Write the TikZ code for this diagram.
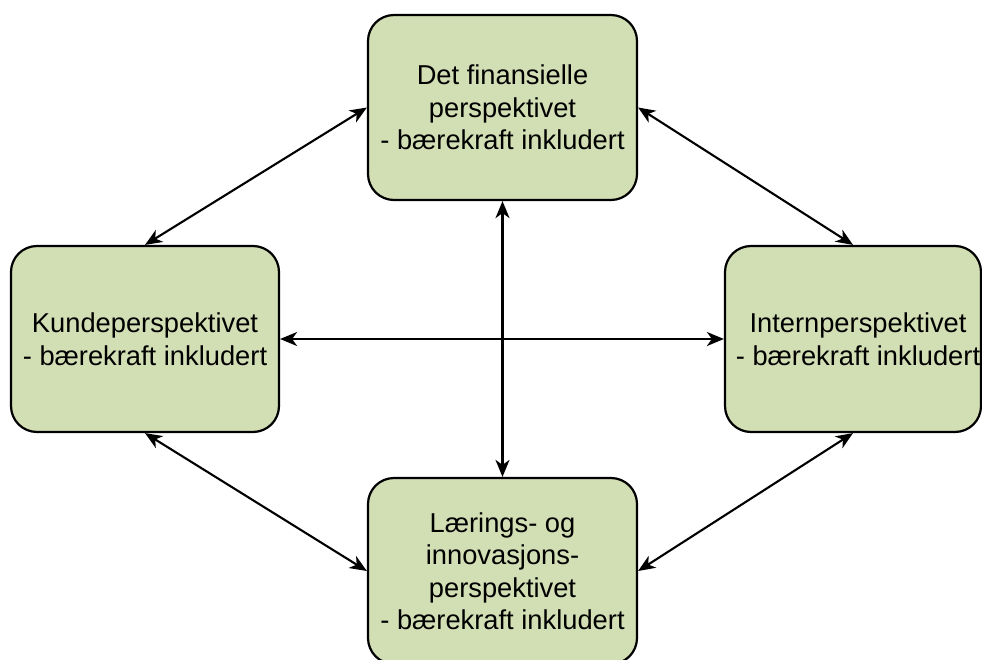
\documentclass[tikz,border=0pt]{standalone}
\usepackage{fontspec}
\setmainfont{Liberation Sans}
\usetikzlibrary{arrows.meta}
\definecolor{boxfill}{RGB}{210,222,180}
\begin{document}
\begin{tikzpicture}[x=1pt,y=-1pt,
  persp/.style={draw=black, line width=2.2pt, fill=boxfill, rounded corners=26pt,
    align=center, inner sep=0pt,
    font=\fontsize{27.3}{32.5}\selectfont},
  caption/.style={align=center, inner sep=0pt, font=\fontsize{27.3}{32.5}\selectfont},
  link/.style={line width=2.1pt, {Stealth[length=17pt,width=14pt,inset=5pt]}-{Stealth[length=17pt,width=14pt,inset=5pt]}}]
  \useasboundingbox (0,0) rectangle (982,660);
  \node[persp, minimum width=269pt, minimum height=185pt] (fin) at (502.5,107.5)
    {Det finansielle\\perspektivet\\- bærekraft inkludert};
  \node[persp, minimum width=268pt, minimum height=186pt] (kunde) at (145,339)
    {Kundeperspektivet\\- bærekraft inkludert};
  \node[persp, minimum width=256pt, minimum height=186pt] (intern) at (853,339) {};
  \node[caption] (interntext) at (858,339)
    {Internperspektivet\\- bærekraft inkludert};
  \node[persp, minimum width=269pt, minimum height=186pt] (laering) at (502.5,571)
    {Lærings- og\\innovasjons-\\perspektivet\\- bærekraft inkludert};
  \draw[link] (kunde.north) -- (fin.west);
  \draw[link] (fin.east) -- (intern.north);
  \draw[link] (fin.south) -- (laering.north);
  \draw[link] (kunde.east) -- (intern.west);
  \draw[link] (kunde.south) -- (laering.west);
  \draw[link] (intern.south) -- (laering.east);
\end{tikzpicture}
\end{document}
